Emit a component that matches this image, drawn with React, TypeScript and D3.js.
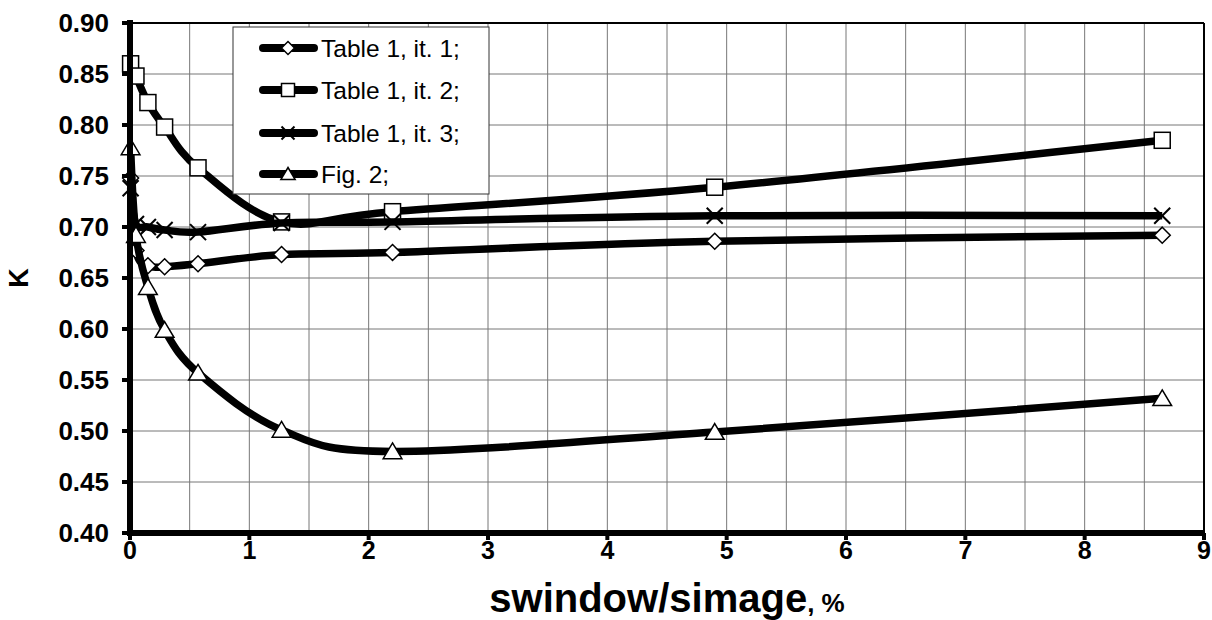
import React from 'react';
import * as d3 from 'd3';

const xValues = [0.005, 0.05, 0.15, 0.29, 0.57, 1.27, 2.2, 4.9, 8.65];
const it1 = [0.748, 0.677, 0.662, 0.661, 0.664, 0.673, 0.675, 0.686, 0.692];
const it2 = [0.86, 0.848, 0.822, 0.798, 0.758, 0.705, 0.715, 0.739, 0.785];
const it3 = [0.738, 0.703, 0.7, 0.697, 0.695, 0.704, 0.705, 0.711, 0.711];
const fig2 = [0.778, 0.692, 0.641, 0.599, 0.557, 0.501, 0.48, 0.499, 0.532];
const seriesNames = ['Table 1, it. 1;', 'Table 1, it. 2;', 'Table 1, it. 3;', 'Fig. 2;'];
const markerTypes = ['diamond', 'square', 'cross', 'triangle'];
const xTicks = [0, 1, 2, 3, 4, 5, 6, 7, 8, 9];
const yTicks = [0.4, 0.45, 0.5, 0.55, 0.6, 0.65, 0.7, 0.75, 0.8, 0.85, 0.9];
const xTitle = 'swindow/simage';
const xTitleUnit = ', %';
const yTitle = 'K';

const FONT = 'Arial, "Liberation Sans", sans-serif';

function Marker({ type, cx, cy, s }: { type: string; cx: number; cy: number; s: number }) {
  if (type === 'diamond') {
    return (
      <polygon
        points={`${cx},${cy - s} ${cx + s},${cy} ${cx},${cy + s} ${cx - s},${cy}`}
        fill="#fff"
        stroke="#000"
        strokeWidth={1.5}
      />
    );
  }
  if (type === 'square') {
    return <rect x={cx - s} y={cy - s} width={2 * s} height={2 * s} fill="#fff" stroke="#000" strokeWidth={1.5} />;
  }
  if (type === 'cross') {
    return (
      <g stroke="#000" strokeWidth={2}>
        <line x1={cx - s} y1={cy - s} x2={cx + s} y2={cy + s} />
        <line x1={cx - s} y1={cy + s} x2={cx + s} y2={cy - s} />
      </g>
    );
  }
  return (
    <polygon
      points={`${cx},${cy - s} ${cx + s * 1.1},${cy + s * 0.85} ${cx - s * 1.1},${cy + s * 0.85}`}
      fill="#fff"
      stroke="#000"
      strokeWidth={1.5}
    />
  );
}

export default function App() {
  const W = 1212;
  const H = 620;
  const x = d3.scaleLinear().domain([0, 9]).range([130, 1204]);
  const y = d3.scaleLinear().domain([0.4, 0.9]).range([533, 23]);
  const series = [it1, it2, it3, fig2];
  const line = d3
    .line<[number, number]>()
    .x((d) => x(d[0]))
    .y((d) => y(d[1]))
    .curve(d3.curveCardinal.tension(0));

  const vGrid = d3.range(1, 18).map((i) => i * 0.5);
  const hGrid = yTicks.slice(1, -1);

  const legendX = 233;
  const legendY = 27;
  const legendW = 256;
  const legendH = 167;
  const rowYs = [48, 90, 133, 174];

  return (
    <svg width={W} height={H} style={{ position: 'absolute', left: 0, top: 0, background: '#fff' }} fontFamily={FONT}>
      <rect x={0} y={0} width={W} height={H} fill="#fff" />
      {/* grid */}
      {vGrid.map((v) => (
        <line key={'v' + v} x1={x(v)} x2={x(v)} y1={y(0.9)} y2={y(0.4)} stroke="#777" strokeWidth={1} />
      ))}
      {hGrid.map((v) => (
        <line key={'h' + v} x1={x(0)} x2={x(9)} y1={y(v)} y2={y(v)} stroke="#777" strokeWidth={1} />
      ))}
      {/* frame top/right */}
      <line x1={x(0)} x2={x(9)} y1={y(0.9)} y2={y(0.9)} stroke="#000" strokeWidth={2} />
      <line x1={x(9)} x2={x(9)} y1={y(0.9)} y2={y(0.4)} stroke="#000" strokeWidth={2} />

      {/* series */}
      {series.map((vals, si) => {
        const pts: [number, number][] = xValues.map((xv, i) => [xv, vals[i]]);
        return (
          <g key={'s' + si}>
            <path d={line(pts) || ''} fill="none" stroke="#000" strokeWidth={7.5} strokeLinejoin="round" />
            {pts.map((p, i) => (
              <Marker key={i} type={markerTypes[si]} cx={x(p[0])} cy={y(p[1])} s={markerTypes[si] === 'triangle' ? 8.5 : 8} />
            ))}
          </g>
        );
      })}

      {/* axes */}
      <line x1={x(0)} x2={x(0)} y1={y(0.9) - 3} y2={y(0.4) + 3} stroke="#000" strokeWidth={6} />
      <line x1={x(0) - 3} x2={x(9) + 1} y1={y(0.4)} y2={y(0.4)} stroke="#000" strokeWidth={6} />
      {yTicks.map((t) => (
        <line key={'yt' + t} x1={x(0) - 8} x2={x(0)} y1={y(t)} y2={y(t)} stroke="#000" strokeWidth={4} />
      ))}
      {xTicks.map((t) => (
        <line key={'xt' + t} x1={x(t)} x2={x(t)} y1={y(0.4)} y2={y(0.4) + 7} stroke="#000" strokeWidth={4} />
      ))}

      {/* tick labels */}
      {yTicks.map((t) => (
        <text
          key={'yl' + t}
          x={109}
          y={y(t)}
          textAnchor="end"
          dominantBaseline="central"
          fontSize={26}
          fontWeight="bold"
        >
          {t.toFixed(2)}
        </text>
      ))}
      {xTicks.map((t) => (
        <text key={'xl' + t} x={x(t)} y={550} textAnchor="middle" dominantBaseline="central" fontSize={25} fontWeight="bold">
          {t}
        </text>
      ))}

      {/* axis titles */}
      <text x={(x(0) + x(9)) / 2} y={612} textAnchor="middle" fontWeight="bold">
        <tspan fontSize={40}>{xTitle}</tspan>
        <tspan fontSize={26}>{xTitleUnit}</tspan>
      </text>
      <text
        transform={`translate(19, ${(y(0.4) + y(0.9)) / 2}) rotate(-90)`}
        textAnchor="middle"
        dominantBaseline="central"
        fontSize={27}
        fontWeight="bold"
      >
        {yTitle}
      </text>

      {/* legend */}
      <rect x={legendX} y={legendY} width={legendW} height={legendH} fill="#fff" stroke="#333" strokeWidth={1} />
      {seriesNames.map((name, i) => (
        <g key={'lg' + i}>
          <line x1={263} x2={314} y1={rowYs[i]} y2={rowYs[i]} stroke="#000" strokeWidth={8} strokeLinecap="round" />
          <Marker type={markerTypes[i]} cx={288} cy={rowYs[i]} s={6.5} />
          <text x={321} y={rowYs[i]} dominantBaseline="central" fontSize={24.5}>
            {name}
          </text>
        </g>
      ))}
    </svg>
  );
}
